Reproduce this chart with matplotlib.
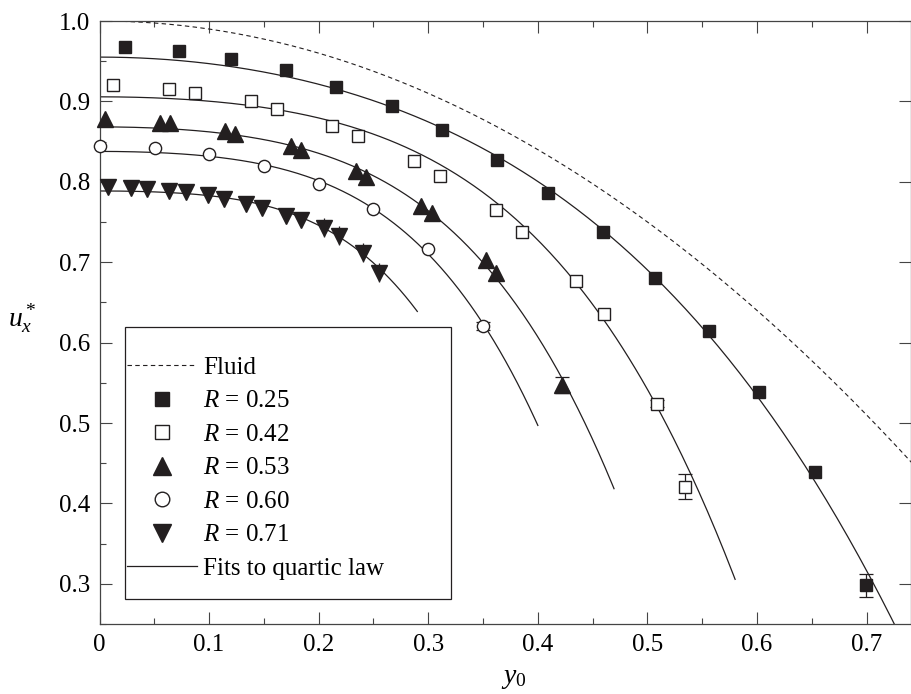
import numpy as np
import matplotlib
matplotlib.use("Agg")
import matplotlib.pyplot as plt
from matplotlib.lines import Line2D
from matplotlib.patches import Rectangle
from matplotlib.ticker import MultipleLocator

plt.rcParams["font.family"] = ["Liberation Serif", "DejaVu Serif"]
plt.rcParams["mathtext.fontset"] = "custom"
plt.rcParams["mathtext.rm"] = "Liberation Serif"
plt.rcParams["mathtext.it"] = "Liberation Serif:italic"

# measured particle velocities, one list pair per particle size ratio R
labels = ["0.25", "0.42", "0.53", "0.60", "0.71"]

y0_025 = [0.023, 0.073, 0.120, 0.170, 0.216, 0.267, 0.3125, 0.363, 0.409, 0.459, 0.507, 0.556, 0.602, 0.653, 0.699]
u_025 = [0.968, 0.963, 0.953, 0.939, 0.918, 0.894, 0.864, 0.827, 0.786, 0.737, 0.680, 0.615, 0.538, 0.439, 0.298]
err_025 = [0, 0, 0, 0, 0, 0, 0, 0, 0, 0, 0, 0, 0, 0, 0.014]

y0_042 = [0.012, 0.063, 0.087, 0.138, 0.162, 0.212, 0.236, 0.287, 0.311, 0.3615, 0.3855, 0.435, 0.460, 0.509, 0.5345]
u_042 = [0.920, 0.916, 0.911, 0.900, 0.891, 0.870, 0.857, 0.826, 0.807, 0.765, 0.737, 0.677, 0.636, 0.524, 0.421]
err_042 = [0, 0, 0, 0, 0, 0, 0, 0, 0, 0, 0, 0, 0, 0.004, 0.016]

y0_053 = [0.005, 0.055, 0.064, 0.1145, 0.124, 0.1745, 0.184, 0.234, 0.243, 0.293, 0.303, 0.3527, 0.362, 0.422]
u_053 = [0.878, 0.873, 0.873, 0.863, 0.860, 0.844, 0.839, 0.814, 0.806, 0.770, 0.761, 0.703, 0.687, 0.547]
err_053 = [0, 0, 0, 0, 0, 0, 0, 0, 0, 0, 0, 0, 0, 0.010]

y0_060 = [0.0, 0.0506, 0.100, 0.150, 0.200, 0.250, 0.2997, 0.3496]
u_060 = [0.845, 0.842, 0.834, 0.820, 0.797, 0.766, 0.716, 0.621]
err_060 = [0, 0, 0, 0, 0, 0, 0, 0.005]

y0_071 = [0.008, 0.0287, 0.043, 0.0637, 0.0786, 0.099, 0.1136, 0.134, 0.1486, 0.170, 0.184, 0.205, 0.219, 0.2407, 0.2553]
u_071 = [0.794, 0.792, 0.791, 0.789, 0.787, 0.783, 0.779, 0.773, 0.767, 0.757, 0.752, 0.743, 0.733, 0.712, 0.687]
err_071 = [0, 0, 0, 0, 0, 0, 0, 0, 0, 0, 0, 0.012, 0.012, 0.012, 0.012]

# quartic law fits u = a - b*y0^2 - c*y0^4, and where each fit curve stops
fit_a = [0.9551, 0.9057, 0.8683, 0.8378, 0.7886]
fit_b = [0.8036, 0.5055, 0.5510, 0.5055, 0.4224]
fit_c = [1.0206, 3.8006, 6.7615, 10.1536, 16.1653]
fit_end = [0.74, 0.58, 0.4695, 0.40, 0.29]

# fluid (Poiseuille) profile u = 1 - y0^2
fluid_a = 1.0
fluid_b = 1.0

xs = [y0_025, y0_042, y0_053, y0_060, y0_071]
us = [u_025, u_042, u_053, u_060, u_071]
errs = [err_025, err_042, err_053, err_060, err_071]

markers = ["s", "s", "^", "o", "v"]
filled = [True, False, True, False, True]
msizes = [9, 8, 11, 8.8, 11]
leg_msizes = [10, 9.5, 13.5, 10.5, 13.5]
ink = "#231f20"
frame = "#444444"

fig = plt.figure(figsize=(9.12, 6.94), dpi=100)
ax = fig.add_axes([99.5 / 912, 70 / 694, 811.5 / 912, 603 / 694])

# fluid profile
yy = np.linspace(0, 0.75, 300)
ax.plot(yy, fluid_a - fluid_b * yy**2, color=ink, lw=0.8, ls=(0, (4, 3)))

# fit curves
for a, b, c, end in zip(fit_a, fit_b, fit_c, fit_end):
    yy = np.linspace(0, end, 300)
    ax.plot(yy, a - b * yy**2 - c * yy**4, color=ink, lw=0.9)

# measured points
for x, u, e, m, f, ms, lab in zip(xs, us, errs, markers, filled, msizes, labels):
    e = np.array(e)
    sel = e > 0
    cap = 0 if lab == "0.71" else 5
    if sel.any():
        ax.errorbar(np.array(x)[sel], np.array(u)[sel], yerr=e[sel], fmt="none",
                    ecolor=ink, elinewidth=0.9, capsize=cap, capthick=0.9, zorder=3)
    ax.plot(x, u, ls="none", marker=m, ms=ms, mfc=ink if f else "white",
            mec=ink, mew=1.0, clip_on=False, zorder=4)

ax.set_xlim(0, 0.7405)
ax.set_ylim(0.25, 1.0)
ax.xaxis.set_minor_locator(MultipleLocator(0.05))
ax.yaxis.set_minor_locator(MultipleLocator(0.05))
ax.set_xticks(np.arange(0, 0.75, 0.1))
ax.set_xticklabels(["0"] + [f"{v:.1f}" for v in np.arange(0.1, 0.75, 0.1)])
ax.set_yticks(np.arange(0.3, 1.01, 0.1))
ax.set_yticklabels([f"{v:.1f}" for v in np.arange(0.3, 1.01, 0.1)])
ax.tick_params(which="major", direction="in", length=8.6, width=0.8, labelsize=18,
               top=True, right=True, color=frame, pad=7)
ax.tick_params(which="minor", direction="in", length=4.3, width=0.8,
               top=True, right=False, color=frame)
for s in ax.spines.values():
    s.set_color(frame)
    s.set_linewidth(0.9)

ax.set_xlabel("$y_0$", fontsize=20)
ax.xaxis.set_label_coords(0.51, -0.07)
ax.set_ylabel("$u_x^*$", fontsize=20, rotation=0)
ax.yaxis.set_label_coords(-0.095, 0.48)

# legend box and entries
ax.add_patch(Rectangle((0.0314, 0.0415), 0.4014, 0.4515, transform=ax.transAxes,
                       fill=True, fc="white", ec=ink, lw=0.9, zorder=5))
handles = [Line2D([], [], color=ink, lw=0.8, ls=(0, (4, 3)))]
for m, f, ms in zip(markers, filled, leg_msizes):
    handles.append(Line2D([], [], ls="none", marker=m, ms=ms,
                          mfc=ink if f else "white", mec=ink, mew=1.0))
handles.append(Line2D([], [], color=ink, lw=0.9))
texts = ["Fluid"] + [f"$R$ = {l}" for l in labels] + ["Fits to quartic law"]
leg = ax.legend(handles, texts, loc="upper left", bbox_to_anchor=(0.0339, 0.444),
                frameon=False, fontsize=18, handlelength=2.8, handletextpad=0.25,
                labelspacing=0.44, borderpad=0, borderaxespad=0)
leg.set_zorder(6)

fig.savefig("out.png", dpi=100)
